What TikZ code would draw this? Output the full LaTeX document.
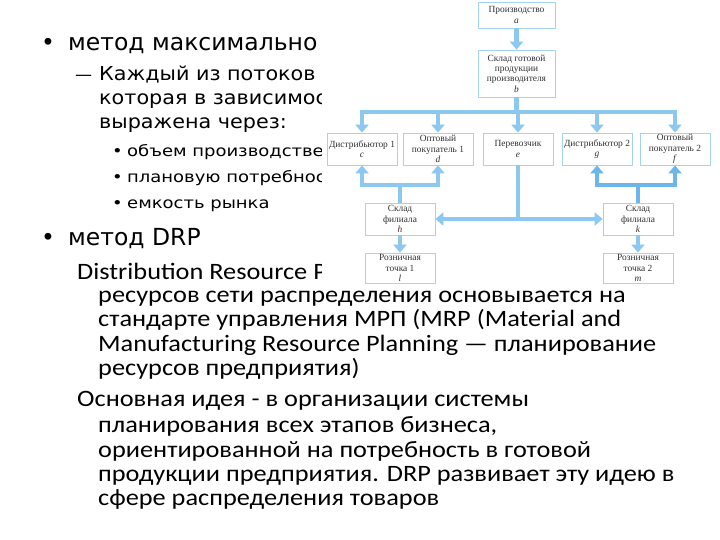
\documentclass[tikz,border=0pt]{standalone}
\usepackage{fontspec}
\setmainfont{Carlito}
\newfontfamily\carlw[FakeStretch=1.12]{Carlito}
\newfontfamily\dvs{DejaVu Sans}
\newfontfamily\dvsm[FakeStretch=1.08]{DejaVu Sans}
\newfontfamily\dvss[FakeStretch=1.16]{DejaVu Sans}
\newfontfamily\lser{Liberation Serif}
\usetikzlibrary{arrows.meta}
\definecolor{arrblue}{HTML}{8CC8F0}
\definecolor{arrblue2}{HTML}{6DB6EC}
\definecolor{boxline}{HTML}{A6D3EE}
\definecolor{boxtext}{HTML}{303030}
\tikzset{
  big/.style={anchor=base west, inner sep=0pt, font=\dvs\fontsize{23.5}{27}\selectfont},
  mid/.style={anchor=base west, inner sep=0pt, font=\dvsm\fontsize{19.2}{23}\selectfont},
  small/.style={anchor=base west, inner sep=0pt, font=\dvss\fontsize{15.5}{19}\selectfont},
  para/.style={anchor=base west, inner sep=0pt, font=\carlw\fontsize{23.5}{27}\selectfont},
  box/.style={draw=boxline, line width=0.8pt, fill=white, text=boxtext, align=center,
    minimum width=70pt, minimum height=32pt, inner sep=1pt,
    font=\lser\fontsize{9.4}{10.4}\selectfont},
  ln/.style={draw=arrblue, line width=4.8pt},
  arr/.style={ln, -{Triangle[width=13pt,length=8pt]}},
  arrr/.style={draw=arrblue2, line width=4.8pt, -{Triangle[width=13pt,length=8pt]}},
  lnr/.style={draw=arrblue2, line width=4.8pt},
}
\begin{document}
\begin{tikzpicture}[x=1pt,y=-1pt]
\useasboundingbox (0,0) rectangle (720,540);
\fill[white] (0,0) rectangle (720,540);
% ---------- slide text ----------
\begin{scope}
\clip (0,0) -- (321,0) -- (321,287) -- (720,287) -- (720,540) -- (0,540) -- cycle;
\node[big] (b1) at (41,51) {•};
\node[big] (t1) at (68,51) {метод максимально};
\node[mid, font=\dvs\fontsize{17}{20}\selectfont] (d1) at (75,80.5) {—};
\node[mid] (t2) at (99,81) {Каждый из потоков и};
\node[mid] (t3) at (99,105) {которая в зависимос};
\node[mid] (t4) at (99,129) {выражена через:};
\node[small] (s1b) at (112,157) {•};
\node[small] (s1) at (127,157) {объем производстве};
\node[small] (s2b) at (112,183) {•};
\node[small] (s2) at (127,183) {плановую потребнос};
\node[small] (s3b) at (112,208) {•};
\node[small] (s3) at (127,208) {емкость рынка};
\node[big] (b2) at (41,245) {•};
\node[big] (t5) at (68,245) {метод DRP};
\node[para] (p1) at (77,279) {Distribution Resource P};
\node[para] (p2) at (98,302) {ресурсов сети распределения основывается на};
\node[para] (p3) at (98,326) {стандарте управления МРП (MRP (Material and};
\node[para] (p4) at (98,351) {Manufacturing Resource Planning — планирование};
\node[para] (p5) at (98,375) {ресурсов предприятия)};
\node[para] (p6) at (77,406) {Основная идея - в организации системы};
\node[para] (p7) at (98,432) {планирования всех этапов бизнеса,};
\node[para] (p8) at (98,457) {ориентированной на потребность в готовой};
\node[para] (p9) at (98,481) {продукции предприятия. DRP развивает эту идею в};
\node[para] (p10) at (98,505) {сфере распределения товаров};
\end{scope}
% ---------- diagram ----------
\node[box, minimum width=77pt, minimum height=26pt] (a) at (516.5,15) {Производство\\\textit{a}};
\node[box, minimum width=77pt, minimum height=47pt] (b) at (516.5,73.5) {Склад готовой\\продукции\\производителя\\\textit{b}};
\node[box] (c) at (362,149) {Дистрибьютор 1\\\textit{c}};
\node[box] (d) at (438,149) {Оптовый\\покупатель 1\\\textit{d}};
\node[box] (e) at (518,149) {Перевозчик\\\textit{e}};
\node[box] (g) at (597,149) {Дистрибьютор 2\\\textit{g}};
\node[box] (f) at (675,149) {Оптовый\\покупатель 2\\\textit{f}};
\node[box] (h) at (400,219) {Склад\\филиала\\\textit{h}};
\node[box] (k) at (638,219) {Склад\\филиала\\\textit{k}};
\node[box, minimum height=30pt] (l) at (400,268) {Розничная\\точка 1\\\textit{l}};
\node[box, minimum height=30pt] (m) at (638,268) {Розничная\\точка 2\\\textit{m}};
% a -> b
\draw[arr] (a.south) -- (b.north);
% bus
\coordinate (bus) at (b.south |- 0,112);
\draw[ln] (b.south) -- (bus);
\draw[arr] (bus) -| (c.north);
\draw[arr] (bus) -| (f.north);
\draw[arr] (d.north |- bus) -- (d.north);
\draw[arr] (e.north |- bus) -- (e.north);
\draw[arr] (g.north |- bus) -- (g.north);
% h -> c, d
\coordinate (hj) at (h.north |- 0,185);
\draw[ln] (h.north) -- (hj);
\draw[arr] (hj) -| (c.south);
\draw[arr] (hj) -| (d.south);
% k -> g, f
\coordinate (kj) at (k.north |- 0,185);
\draw[lnr] (k.north) -- (kj);
\draw[arrr] (kj) -| (g.south);
\draw[arrr] (kj) -| (f.south);
% e -- h <-> k
\coordinate (ej) at (e.south |- h.east);
\draw[ln] (e.south) -- (ej);
\draw[ln, {Triangle[width=13pt,length=8pt]}-{Triangle[width=13pt,length=8pt]}] (h.east) -- (k.west);
% to retail
\draw[arr] (h.south) -- (l.north);
\draw[arr] (k.south) -- (m.north);
\end{tikzpicture}
\end{document}
